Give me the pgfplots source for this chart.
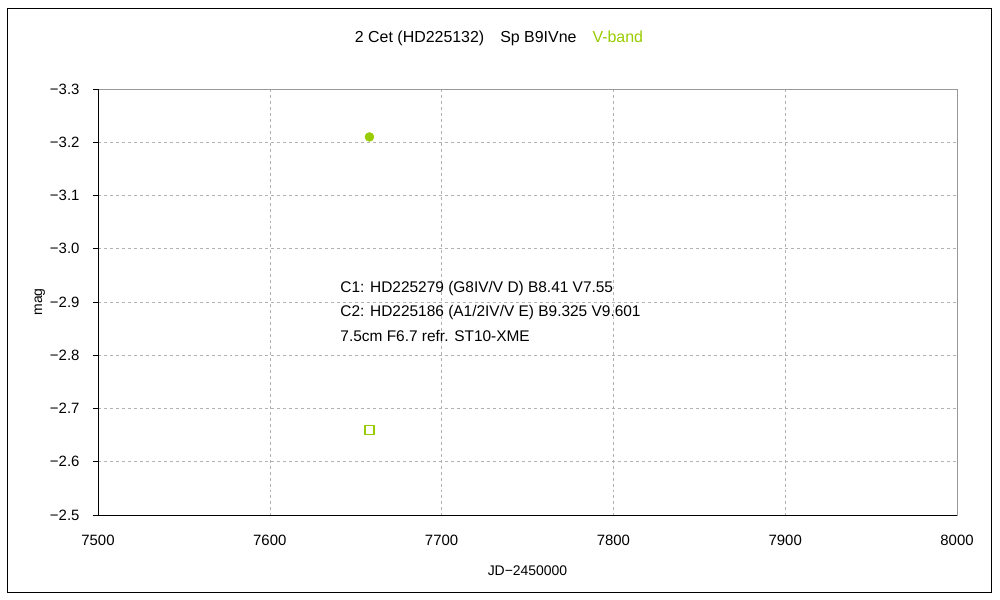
\documentclass[border=0pt]{standalone}
\usepackage{pgfplots}
\pgfplotsset{compat=1.18}
\usepackage{fontspec}
\setmainfont{Liberation Sans}
\definecolor{vgreen}{RGB}{153,204,0}
\begin{document}
\begin{tikzpicture}[x=1bp,y=1bp]
\path (0,0) rectangle (1000,600);
\draw[black, line width=0.8bp] (7,8) rectangle (991,592);
\node[font=\fontsize{16}{18}\selectfont] at (499,562) {2 Cet (HD225132)\hspace{16bp}Sp B9IVne\hspace{16bp}\textcolor{vgreen}{V-band}};
\begin{axis}[
  at={(98bp,85bp)}, anchor=south west,
  scale only axis, width=859bp, height=426bp,
  xmin=7500, xmax=8000, ymin=-3.3, ymax=-2.5,
  y dir=reverse,
  xtick={7500,7600,7700,7800,7900,8000},
  xticklabels={7500,7600,7700,7800,7900,8000},
  ytick={-3.3,-3.2,-3.1,-3.0,-2.9,-2.8,-2.7,-2.6,-2.5},
  yticklabels={−3.3,−3.2,−3.1,−3.0,−2.9,−2.8,−2.7,−2.6,−2.5},
  tick label style={font=\fontsize{15}{17}\selectfont},
  xticklabel style={yshift=-12bp},
  yticklabel style={xshift=-10bp},
  grid=major,
  major grid style={gray!60, dashed, line width=0.6bp},
  axis line style={gray!80, line width=0.8bp},
  tick align=outside,
  major tick length=5bp,
  tick style={black, line width=0.6bp},
  xtick style={draw=none},
  ytick pos=left, xtick pos=bottom,
  xlabel={JD−2450000},
  ylabel={mag},
  label style={font=\fontsize{14}{16}\selectfont},
  xlabel style={yshift=-13bp},
  ylabel style={yshift=-2bp},
  clip=false,
]
\addplot[only marks, mark=*, mark size=4.5bp, color=vgreen] coordinates {(7658,-3.21)};
\addplot[only marks, mark=square, mark size=4.5bp, mark options={line width=1.6bp, draw=vgreen, fill=white}] coordinates {(7658,-2.66)};
\draw[black, line width=0.8bp] (rel axis cs:0,1) -- (rel axis cs:0,0) -- (rel axis cs:1,0);
\node[anchor=west, font=\fontsize{15.5}{17}\selectfont, inner sep=0pt] at (axis cs:7641,-2.926) {C1: HD225279 (G8IV/V D) B8.41 V7.55};
\node[anchor=west, font=\fontsize{15.5}{17}\selectfont, inner sep=0pt] at (axis cs:7641,-2.881) {C2: HD225186 (A1/2IV/V E) B9.325 V9.601};
\node[anchor=west, font=\fontsize{15.5}{17}\selectfont, inner sep=0pt] at (axis cs:7641,-2.836) {7.5cm F6.7 refr. ST10-XME};
\end{axis}
\end{tikzpicture}
\end{document}
